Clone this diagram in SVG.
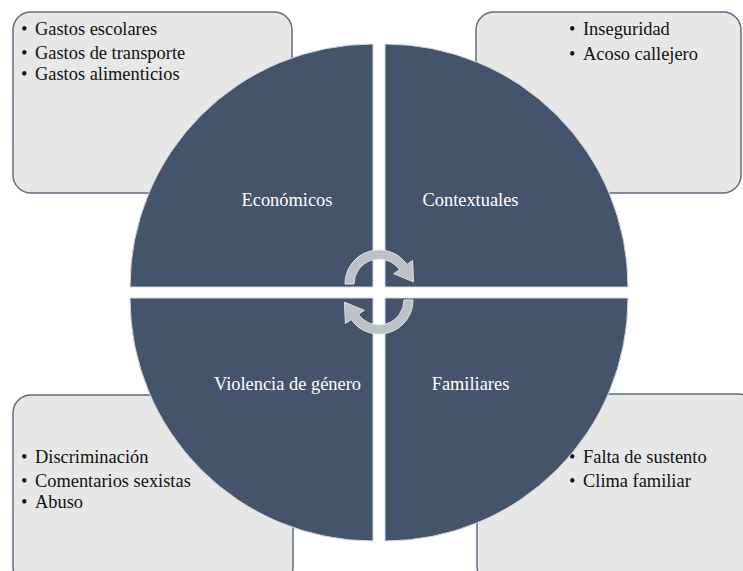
<svg xmlns="http://www.w3.org/2000/svg" width="743" height="571" viewBox="0 0 743 571">
<style>
.box{fill:#E7E7E7;stroke:#5E6D82;stroke-width:1.5}
.q{fill:#44546A;stroke:#D4D7DC;stroke-width:1}
.t{font-family:"Liberation Serif","Times New Roman",serif;font-size:18.4px;fill:#111}
.lbl{font-family:"Liberation Serif","Times New Roman",serif;font-size:18.4px;fill:#FFFFFF;text-anchor:middle}
.arr{fill:#BCC1C8;stroke:#E2E4E8;stroke-width:1}
</style>
<rect width="743" height="571" fill="#FFFFFF"/>
<g id="box-economicos">
<rect class="box" x="13" y="12" width="279" height="181" rx="18"/>
<text class="t" y="35"><tspan x="21">•</tspan><tspan x="35">Gastos escolares</tspan></text>
<text class="t" y="59"><tspan x="21">•</tspan><tspan x="35">Gastos de transporte</tspan></text>
<text class="t" y="80"><tspan x="21">•</tspan><tspan x="35">Gastos alimenticios</tspan></text>
</g>
<g id="box-contextuales">
<rect class="box" x="476" y="12" width="265" height="181" rx="18"/>
<text class="t" y="35"><tspan x="569">•</tspan><tspan x="583">Inseguridad</tspan></text>
<text class="t" y="60"><tspan x="569">•</tspan><tspan x="583">Acoso callejero</tspan></text>
</g>
<g id="box-violencia">
<rect class="box" x="13" y="395" width="280" height="190" rx="18"/>
<text class="t" y="463"><tspan x="21">•</tspan><tspan x="35">Discriminación</tspan></text>
<text class="t" y="487"><tspan x="21">•</tspan><tspan x="35">Comentarios sexistas</tspan></text>
<text class="t" y="508"><tspan x="21">•</tspan><tspan x="35">Abuso</tspan></text>
</g>
<g id="box-familiares">
<rect class="box" x="477" y="394" width="280" height="190" rx="18"/>
<text class="t" y="463"><tspan x="569">•</tspan><tspan x="583">Falta de sustento</tspan></text>
<text class="t" y="487"><tspan x="569">•</tspan><tspan x="583">Clima familiar</tspan></text>
</g>
<g id="q-economicos">
<path class="q" d="M373,287 L130,287 A243,243 0 0 1 373,44 Z"/>
<text class="lbl" x="287" y="206">Económicos</text>
</g>
<g id="q-contextuales">
<path class="q" d="M385,287 L385,44 A243,243 0 0 1 628,287 Z"/>
<text class="lbl" x="470.5" y="206">Contextuales</text>
</g>
<g id="q-violencia">
<path class="q" d="M373,298 L373,541 A243,243 0 0 1 130,298 Z"/>
<text class="lbl" x="287.5" y="390">Violencia de género</text>
</g>
<g id="q-familiares">
<path class="q" d="M385,298 L628,298 A243,243 0 0 1 385,541 Z"/>
<text class="lbl" x="470.5" y="390">Familiares</text>
</g>
<g id="connectors">
<path class="arr" d="M345,284 A34,34 0 0 1 406.9,264.5 L412.6,260.5 L413.5,281.8 L393.7,273.7 L399.5,269.7 A25,25 0 0 0 354,284 Z"/>
<path class="arr" d="M413,300 A34,34 0 0 1 351.1,319.5 L345.4,323.5 L344.5,302.2 L364.3,310.3 L358.5,314.3 A25,25 0 0 0 404,300 Z"/>
</g>
</svg>
